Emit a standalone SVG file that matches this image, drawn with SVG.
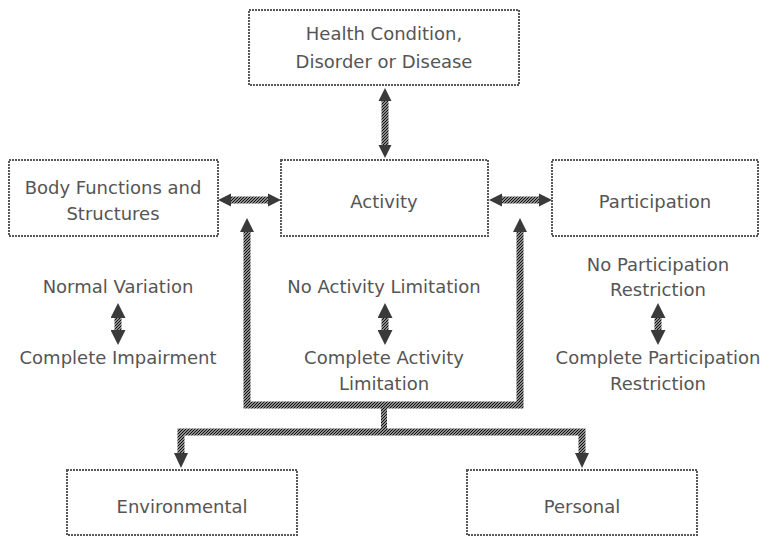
<svg xmlns="http://www.w3.org/2000/svg" width="762" height="537" viewBox="0 0 762 537">
<style>
.box{fill:#fff;stroke:#595959;stroke-width:2;stroke-dasharray:2 1}
.t{font-family:"DejaVu Sans",Verdana,sans-serif;font-size:18px;fill:#555;text-anchor:middle}
.c{fill:none;stroke:url(#hatch);stroke-width:6}
.f{fill:none;stroke:url(#hatch);stroke-width:7}
.dbl{fill:none;stroke:url(#hatch);stroke-width:7;marker-start:url(#ah);marker-end:url(#ah)}
.sm{fill:none;stroke:url(#hatch);stroke-width:7;marker-start:url(#ahs);marker-end:url(#ahs)}
</style>
<defs>
<pattern id="hatch" patternUnits="userSpaceOnUse" width="3" height="3">
<rect width="3" height="3" fill="#fff"/>
<path d="M-1,1 l2,-2 M0,3 l3,-3 M2,4 l2,-2" stroke="#111" stroke-width="1.4"/>
</pattern>
<marker id="ah" viewBox="0 0 10 10" refX="0" refY="5" markerWidth="13" markerHeight="14" markerUnits="userSpaceOnUse" orient="auto-start-reverse">
<path d="M0,0 L10,5 L0,10 z" fill="#3a3a3a"/>
</marker>
<marker id="ahs" viewBox="0 0 10 10" refX="0" refY="5" markerWidth="15" markerHeight="15" markerUnits="userSpaceOnUse" orient="auto-start-reverse">
<path d="M0,0 L10,5 L0,10 z" fill="#3a3a3a"/>
</marker>
</defs>

<g id="connectors">
<path class="dbl" d="M385,101 L385,145"/>
<path class="dbl" d="M231,200 L268,200"/>
<path class="dbl" d="M502,200 L539,200"/>
<path class="f" d="M247,231 L247,405 L520,405 L520,231"/>
<path d="M247,218 L240,232 L254,232 z M520,218 L513,232 L527,232 z" fill="#3a3a3a"/>
<path class="c" d="M384,405 L384,432"/>
<path class="f" d="M181,454 L181,432 L582,432 L582,454"/>
<path d="M181,468 L174,453 L188,453 z M582,468 L575,453 L589,453 z" fill="#3a3a3a"/>
<path class="sm" d="M118,318 L118,330"/>
<path class="sm" d="M385,318 L385,330"/>
<path class="sm" d="M658,318 L658,330"/>
</g>

<g id="health">
<rect class="box" x="249" y="10" width="270" height="75"/>
<text class="t" x="384" y="40">Health Condition,</text>
<text class="t" x="384" y="68">Disorder or Disease</text>
</g>

<g id="body">
<rect class="box" x="9" y="160" width="209" height="76"/>
<text class="t" x="113" y="194">Body Functions and</text>
<text class="t" x="113" y="220">Structures</text>
</g>

<g id="activity">
<rect class="box" x="281" y="160" width="207" height="76"/>
<text class="t" x="384" y="208">Activity</text>
</g>

<g id="participation">
<rect class="box" x="552" y="160" width="206" height="76"/>
<text class="t" x="655" y="208">Participation</text>
</g>

<g id="body-scale">
<text class="t" x="118" y="293">Normal Variation</text>
<text class="t" x="118" y="364">Complete Impairment</text>
</g>

<g id="activity-scale">
<text class="t" x="384" y="293">No Activity Limitation</text>
<text class="t" x="384" y="364">Complete Activity</text>
<text class="t" x="384" y="390">Limitation</text>
</g>

<g id="participation-scale">
<text class="t" x="658" y="271">No Participation</text>
<text class="t" x="658" y="296">Restriction</text>
<text class="t" x="658" y="364">Complete Participation</text>
<text class="t" x="658" y="390">Restriction</text>
</g>

<g id="environmental">
<rect class="box" x="67" y="470" width="230" height="65"/>
<text class="t" x="182" y="513">Environmental</text>
</g>

<g id="personal">
<rect class="box" x="467" y="470" width="230" height="65"/>
<text class="t" x="582" y="513">Personal</text>
</g>
</svg>
